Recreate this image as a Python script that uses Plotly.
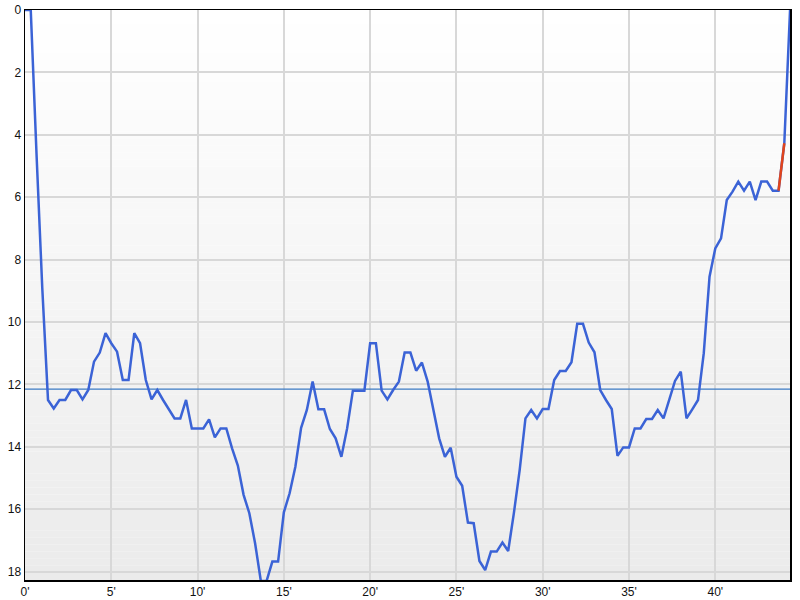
import plotly.graph_objects as go

# Sample grid: one sample every 20 seconds (minutes)
minutes = [i / 3 for i in range(134)]

# Position values (y axis reversed: 0 at top)
position = [
    0, 0, 4.6, 8.9, 12.5, 12.77, 12.5, 12.5, 12.18, 12.18,
    12.48, 12.18, 11.27, 10.98, 10.36, 10.68, 10.95, 11.86, 11.86, 10.36,
    10.68, 11.86, 12.48, 12.18, 12.5, 12.8, 13.09, 13.09, 12.5, 13.41,
    13.41, 13.41, 13.12, 13.7, 13.41, 13.41, 14.05, 14.6, 15.54, 16.13,
    17.09, 18.3, 18.3, 17.68, 17.68, 16.1, 15.49, 14.64, 13.39, 12.82,
    11.91, 12.8, 12.8, 13.43, 13.73, 14.32, 13.41, 12.2, 12.2, 12.2,
    10.68, 10.68, 12.2, 12.48, 12.18, 11.91, 10.98, 10.98, 11.56, 11.3,
    11.91, 12.82, 13.73, 14.32, 14.03, 14.96, 15.25, 16.43, 16.45, 17.66,
    17.95, 17.36, 17.36, 17.07, 17.34, 16.11, 14.74, 13.09, 12.82, 13.09,
    12.79, 12.79, 11.86, 11.57, 11.57, 11.29, 10.06, 10.06, 10.66, 10.97,
    12.18, 12.5, 12.79, 14.29, 14.02, 14.02, 13.41, 13.41, 13.11, 13.11,
    12.82, 13.09, 12.5, 11.89, 11.59, 13.09, 12.8, 12.5, 11.0, 8.55,
    7.64, 7.32, 6.09, 5.82, 5.5, 5.79, 5.5, 6.09, 5.5, 5.5,
    5.79, 5.79, 4.27, 0,
]

# Highlighted (red) segment indices
highlight_start = 131
highlight_end = 133

average_position = 12.15

x_max = 44.33
y_max = 18.27
y_ticks = [0, 2, 4, 6, 8, 10, 12, 14, 16, 18]
x_ticks = [0, 5, 10, 15, 20, 25, 30, 35, 40]
x_tick_text = ["0'", "5'", "10'", "15'", "20'", "25'", "30'", "35'", "40'"]

fig = go.Figure()

# Average line
fig.add_trace(go.Scatter(
    x=[0, x_max], y=[average_position, average_position], mode="lines",
    line=dict(color="#3d7bc4", width=1.2),
    hoverinfo="skip", showlegend=False,
))

fig.add_trace(go.Scatter(
    x=minutes, y=position, mode="lines",
    line=dict(color="#3b63d6", width=2.5),
    hoverinfo="skip", showlegend=False,
))
fig.add_trace(go.Scatter(
    x=minutes[highlight_start:highlight_end],
    y=position[highlight_start:highlight_end],
    mode="lines",
    line=dict(color="#e0441c", width=2.5),
    hoverinfo="skip", showlegend=False,
))

# Vertical gradient background (white -> light gray)
shapes = []
n_bands = 80
top = (255, 255, 255)
bottom = (235, 235, 235)
for i in range(n_bands):
    f = (i + 0.5) / n_bands
    c = tuple(round(top[j] + (bottom[j] - top[j]) * f) for j in range(3))
    shapes.append(dict(
        type="rect", xref="paper", yref="paper",
        x0=0, x1=1, y0=1 - (i + 1) / n_bands, y1=1 - i / n_bands,
        fillcolor="rgb(%d,%d,%d)" % c, line=dict(width=0), layer="below",
    ))

fig.update_layout(
    width=800, height=600,
    margin=dict(l=25, r=10, t=10, b=20),
    paper_bgcolor="white",
    plot_bgcolor="rgba(0,0,0,0)",
    font=dict(family="Liberation Sans, Arial, sans-serif", size=12, color="#111111"),
    shapes=shapes,
    showlegend=False,
)

fig.update_xaxes(
    range=[0, x_max], automargin=False,
    tickvals=x_ticks, ticktext=x_tick_text,
    showgrid=True, gridcolor="#d8d8d8", gridwidth=2,
    zeroline=False,
    showline=True, linecolor="black", linewidth=1.5, mirror=True,
    ticks="", ticklen=0, ticklabeloverflow="allow",
)
fig.update_yaxes(
    range=[y_max, -0.001], automargin=False,
    tickvals=y_ticks,
    showgrid=True, gridcolor="#d8d8d8", gridwidth=2,
    zeroline=False,
    showline=True, linecolor="black", linewidth=1.5, mirror=True,
    ticks="", ticklen=0, ticklabeloverflow="allow",
)

# Remove the default 8px page margin so the 800x600 figure fills the window
fig.write_html(
    "out.html",
    config={"displayModeBar": False, "staticPlot": True},
    post_script="document.body.style.margin='0px';",
)
